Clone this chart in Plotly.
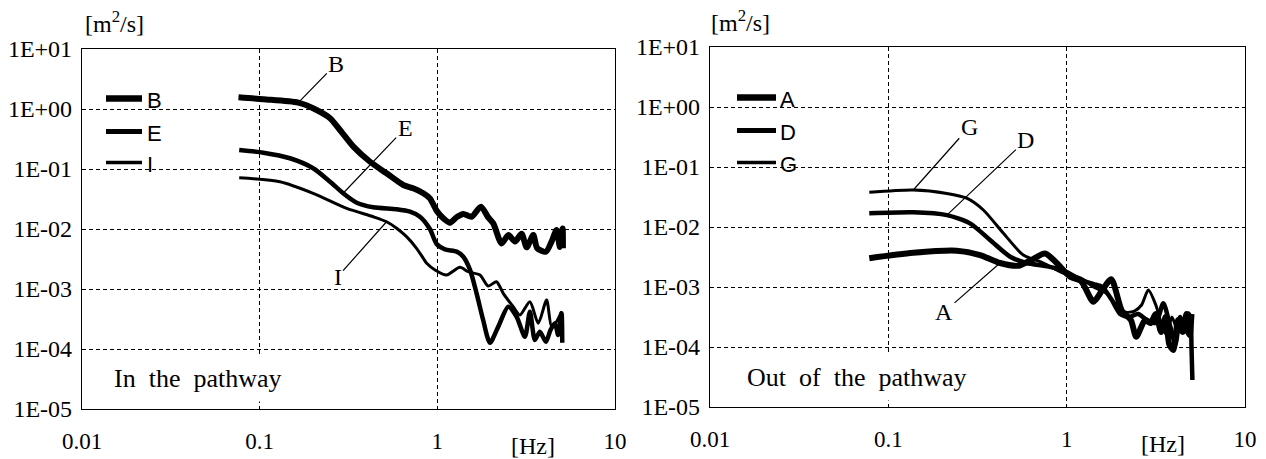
import numpy as np
import plotly.graph_objects as go

W, H = 1266, 459

# ---- In the pathway (left panel) ----
b_freq = [0.076, 0.105, 0.165, 0.209, 0.249, 0.283, 0.337, 0.418, 0.518, 0.643, 0.731, 0.834,
          0.908, 0.991, 1.096, 1.178, 1.288, 1.400, 1.560, 1.758, 1.928, 2.065, 2.301, 2.512,
          2.735, 2.979, 3.184, 3.467, 3.648, 4.083, 4.395, 4.688, 4.898, 5.070, 5.093]
b_val = [1.567, 1.452, 1.274, 0.962, 0.700, 0.447, 0.236, 0.132, 0.0847, 0.0541, 0.0476, 0.0394,
         0.0324, 0.0202, 0.0145, 0.0127, 0.0158, 0.0178, 0.0160, 0.0236, 0.0158, 0.0124, 0.00575,
         0.00794, 0.00617, 0.00832, 0.00495, 0.00794, 0.00479, 0.00417, 0.00617, 0.00962, 0.00501,
         0.0102, 0.00479]

e_freq = [0.0767, 0.105, 0.148, 0.200, 0.249, 0.295, 0.352, 0.436, 0.590, 0.702, 0.798, 0.908,
          0.991, 1.104, 1.285, 1.400, 1.528, 1.663, 1.811, 1.977, 2.203, 2.506, 2.793, 3.112,
          3.319, 3.540, 3.776, 4.083, 4.335, 4.592, 4.786, 5.000, 5.047]
e_val = [0.207, 0.187, 0.151, 0.103, 0.0614, 0.0394, 0.0274, 0.0230, 0.0213, 0.0194, 0.0160,
         0.0100, 0.00562, 0.00459, 0.00419, 0.00345, 0.00208, 0.000847, 0.000304, 0.000127,
         0.000236, 0.000507, 0.000345, 0.000160, 0.000419, 0.000141, 0.000194, 0.000132,
         0.000208, 0.000268, 0.000171, 0.000394, 0.000127]

i_freq = [0.0767, 0.130, 0.200, 0.309, 0.436, 0.518, 0.590, 0.671, 0.764, 0.834, 0.871, 0.971,
          1.127, 1.340, 1.493, 1.738, 1.932, 2.153, 2.350, 2.673, 2.917, 3.319, 3.698, 4.121,
          4.395, 4.688, 5.000]
i_val = [0.0716, 0.0614, 0.0394, 0.0221, 0.0160, 0.0132, 0.0103, 0.00745, 0.00476, 0.00325,
         0.00268, 0.00208, 0.00171, 0.00230, 0.00194, 0.00171, 0.00112, 0.00132, 0.000847,
         0.000507, 0.000369, 0.000614, 0.000268, 0.000656, 0.000236, 0.000285, 0.000419]

# ---- Out of the pathway (right panel) ----
a_freq = [0.0782, 0.138, 0.242, 0.327, 0.423, 0.536, 0.624, 0.757, 0.879, 1.045, 1.202, 1.413,
          1.585, 1.778, 2.042, 2.291, 2.455, 2.754, 2.951, 3.162, 3.388, 3.589, 3.758, 3.963,
          4.217, 4.467, 4.699, 4.898, 5.012]
a_val = [0.00302, 0.00372, 0.00403, 0.00341, 0.00251, 0.00226, 0.00275, 0.00363, 0.00251,
         0.00148, 0.00126, 0.000569, 0.000891, 0.00135, 0.000398, 0.000282, 0.000148, 0.000282,
         0.000251, 0.000355, 0.000178, 0.000316, 0.000112, 0.0000891, 0.000282, 0.000178,
         0.000355, 0.000158, 0.000355]

d_freq = [0.0782, 0.138, 0.213, 0.287, 0.372, 0.482, 0.597, 0.794, 1.000, 1.202, 1.413, 1.585,
          1.778, 1.995, 2.239, 2.512, 2.818, 3.162, 3.483, 3.802, 4.074, 4.325, 4.571, 4.819,
          4.955, 5.012, 5.070]
d_val = [0.0169, 0.0176, 0.0158, 0.0115, 0.00607, 0.00320, 0.00251, 0.00219, 0.00178, 0.00132,
         0.00112, 0.00100, 0.000631, 0.000355, 0.000316, 0.000355, 0.000282, 0.000251, 0.000537,
         0.000224, 0.000112, 0.000316, 0.000178, 0.000363, 0.000282, 0.000100, 0.0000282]

g_freq = [0.0782, 0.138, 0.213, 0.275, 0.341, 0.442, 0.571, 0.741, 0.955, 1.202, 1.413, 1.660,
          1.905, 2.138, 2.399, 2.630, 2.871, 3.162, 3.388, 3.631, 3.890, 4.169, 4.467, 4.786,
          5.012]
g_val = [0.0378, 0.0414, 0.0363, 0.0302, 0.0192, 0.00785, 0.00341, 0.00251, 0.00170, 0.00141,
         0.00100, 0.000794, 0.000501, 0.000380, 0.000398, 0.000501, 0.000891, 0.000501,
         0.000251, 0.000158, 0.000316, 0.000200, 0.000282, 0.000158, 0.000251]

x_ticks = [0.01, 0.1, 1, 10]
x_ticktext = ["0.01", "0.1", "1", "10"]
y_ticks = [1e-5, 1e-4, 1e-3, 1e-2, 1e-1, 1e0, 1e1]
y_ticktext = ["1E-05", "1E-04", "1E-03", "1E-02", "1E-01", "1E+00", "1E+01"]

SERIF = "Liberation Serif, Times New Roman, serif"
SANS = "Liberation Sans Narrow, Liberation Sans, Arial, sans-serif"


def px(x):
    return x / W


def py(y):
    return 1 - y / H


left = [("B", b_freq, b_val, 6.0), ("E", e_freq, e_val, 4.5), ("I", i_freq, i_val, 3.0)]
right = [("A", a_freq, a_val, 6.0), ("D", d_freq, d_val, 4.5), ("G", g_freq, g_val, 3.0)]

fig = go.Figure()
for name, f, v, w in left:
    fig.add_trace(go.Scatter(x=f, y=v, name=name, mode="lines", xaxis="x", yaxis="y",
                             line=dict(color="black", width=w, shape="spline", smoothing=0.7),
                             showlegend=False, hoverinfo="skip"))
for name, f, v, w in right:
    fig.add_trace(go.Scatter(x=f, y=v, name=name, mode="lines", xaxis="x2", yaxis="y2",
                             line=dict(color="black", width=w, shape="spline", smoothing=0.7),
                             showlegend=False, hoverinfo="skip"))


def x_axis(domain, anchor):
    return dict(domain=domain, anchor=anchor, type="log", range=[-2, 1], automargin=False,
                tickmode="array", tickvals=x_ticks, ticktext=x_ticktext,
                showgrid=True, gridcolor="black", gridwidth=1, griddash="4px,3px",
                showline=True, linecolor="black", linewidth=1.2, mirror=True, ticks="",
                ticklabelstandoff=11, tickfont=dict(family=SERIF, size=23, color="black"),
                fixedrange=True)


def y_axis(domain, anchor):
    return dict(domain=domain, anchor=anchor, type="log", range=[-5, 1], automargin=False,
                tickmode="array", tickvals=y_ticks, ticktext=y_ticktext,
                showgrid=True, gridcolor="black", gridwidth=1, griddash="4px,3px",
                showline=True, linecolor="black", linewidth=1.2, mirror=True, ticks="",
                ticklabelstandoff=4, tickfont=dict(family=SERIF, size=24, color="black"),
                fixedrange=True)


fig.update_layout(
    width=W, height=H, autosize=False,
    margin=dict(l=0, r=0, t=0, b=0, pad=0),
    paper_bgcolor="white", plot_bgcolor="white",
    xaxis=x_axis([px(82), px(615)], "y"),
    yaxis=y_axis([py(409), py(49)], "x"),
    xaxis2=x_axis([px(710), px(1245)], "y2"),
    yaxis2=y_axis([py(407), py(47)], "x2"),
)

annotations = []
shapes = []


def leader(text, f, v, idx, ax, ay, xr, yr):
    return dict(x=float(np.log10(f[idx])), y=float(np.log10(v[idx])), xref=xr, yref=yr,
                text=text, showarrow=True, arrowhead=0, arrowwidth=1.2, arrowcolor="black",
                ax=ax, ay=ay, standoff=0,
                font=dict(family=SERIF, size=24, color="black"))


annotations += [
    leader("B", b_freq, b_val, 2, 38, -39, "x", "y"),
    leader("E", e_freq, e_val, 5, 62, -65, "x", "y"),
    leader("I", i_freq, i_val, 5, -49, 55, "x", "y"),
    leader("G", g_freq, g_val, 1, 56, -63, "x2", "y2"),
    leader("D", d_freq, d_val, 2, 79, -75, "x2", "y2"),
    leader("A", a_freq, a_val, 4, -56, 49, "x2", "y2"),
]

# Legend samples
legend_rows = [
    (left, 106, 142, 145, [98.5, 131.5, 162.5]),
    (right, 737, 776, 778, [97.5, 130.5, 162.5]),
]
for series, lx0, lx1, tx, ys in legend_rows:
    for (name, _, _, w), yy in zip(series, ys):
        shapes.append(dict(type="line", xref="paper", yref="paper",
                           x0=px(lx0), x1=px(lx1), y0=py(yy), y1=py(yy),
                           line=dict(color="black", width=w + 0.7)))
        annotations.append(dict(x=px(tx), y=py(yy + 1.5), xref="paper", yref="paper",
                                xanchor="left", yanchor="middle", showarrow=False,
                                text=name, font=dict(family=SANS, size=22, color="black")))

# Panel captions
NB = "\u00a0\u00a0"
for text, x0, yy in [("In" + NB + "the" + NB + "pathway", 113, 378),
                     ("Out" + NB + "of" + NB + "the" + NB + "pathway", 746, 377)]:
    annotations.append(dict(x=px(x0 - 8), y=py(yy), xref="paper", yref="paper",
                            xanchor="left", yanchor="middle", showarrow=False, text=text,
                            bgcolor="white", borderpad=8,
                            font=dict(family=SERIF, size=26, color="black")))

# Units
for text, cx, cy in [("[m<sup>2</sup>/s]", 114, 22), ("[m<sup>2</sup>/s]", 740, 21),
                     ("[Hz]", 533, 446), ("[Hz]", 1163, 444)]:
    annotations.append(dict(x=px(cx), y=py(cy), xref="paper", yref="paper",
                            xanchor="center", yanchor="middle", showarrow=False, text=text,
                            font=dict(family=SERIF, size=24, color="black")))

fig.update_layout(annotations=annotations, shapes=shapes)
fig.write_html("out.html")
